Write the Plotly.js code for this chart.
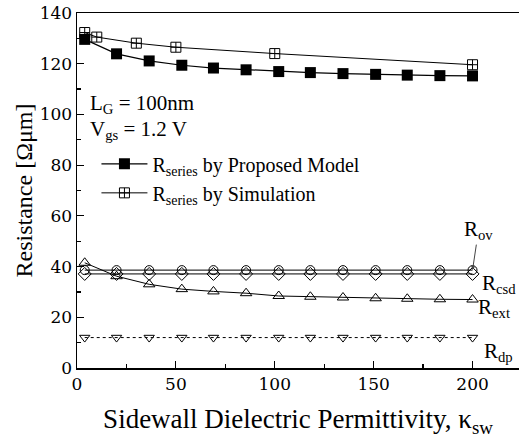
<!DOCTYPE html>
<html><head><meta charset="utf-8">
<script src="https://cdn.plot.ly/plotly-3.0.1.min.js"></script>
<style>html,body{margin:0;padding:0;background:#fff}#c{width:519px;height:438px}</style>
</head><body><div id="c"></div>
<script>
// Data
const kModel = [3.9, 20, 36.5, 53, 69, 85.5, 102, 118, 134.5, 151, 167, 183.5, 200];
const rSeriesModel = [129.6, 123.9, 121.1, 119.4, 118.3, 117.6, 116.9, 116.5, 116.1, 115.8, 115.5, 115.3, 115.2];
const kSim = [3.9, 10, 30, 50, 100, 200];
const rSeriesSim = [132.3, 130.5, 128.1, 126.5, 124.0, 119.6];
const rOv  = [38.6, 38.6, 38.6, 38.6, 38.6, 38.6, 38.6, 38.6, 38.6, 38.6, 38.6, 38.6, 38.6];
const rCsd = [37.1, 37.1, 37.1, 37.1, 37.1, 37.1, 37.1, 37.1, 37.1, 37.1, 37.1, 37.1, 37.1];
const rExt = [41.5, 36.2, 33.0, 31.1, 30.2, 29.5, 28.4, 28.1, 27.8, 27.5, 27.3, 27.1, 27.0];
const rDp  = [12.0, 12.0, 12.0, 12.0, 12.0, 12.0, 12.0, 12.0, 12.0, 12.0, 12.0, 12.0, 12.0];

const F = "DejaVu Serif";
const F2 = "Liberation Serif";
const traces = [
  {x: kModel, y: rSeriesModel, mode: 'lines+markers', name: 'R<sub>series</sub> by Proposed Model',
   line: {color: '#000', width: 1.2}, marker: {symbol: 'square', size: 11, color: '#000'}},
  {x: kSim, y: rSeriesSim, mode: 'lines+markers', name: 'R<sub>series</sub> by Simulation',
   line: {color: '#000', width: 1}, marker: {symbol: 'square-cross-open', size: 10, color: '#000', line: {width: 1}}},
  {x: kModel, y: rOv, mode: 'lines+markers', showlegend: false,
   line: {color: '#000', width: 1}, marker: {symbol: 'circle-open', size: 9, color: '#000', line: {width: 1}}},
  {x: kModel, y: rCsd, mode: 'lines+markers', showlegend: false,
   line: {color: '#000', width: 1}, marker: {symbol: 'diamond-open', size: 10, color: '#000', line: {width: 1}}},
  {x: kModel, y: rExt, mode: 'lines+markers', showlegend: false,
   line: {color: '#000', width: 1}, marker: {symbol: 'triangle-up-open', size: 10, color: '#000', line: {width: 1}}},
  {x: kModel, y: rDp, mode: 'lines+markers', showlegend: false,
   line: {color: '#000', width: 1, dash: 'dot'}, marker: {symbol: 'triangle-down-open', size: 9, color: '#000', line: {width: 1}}}
];

const layout = {
  width: 519, height: 438,
  margin: {l: 77, r: 0, t: 13, b: 70},
  paper_bgcolor: '#fff', plot_bgcolor: '#fff',
  font: {family: F, color: '#000', size: 17},
  showlegend: true,
  legend: {x: 0.044, y: 0.63, xanchor: 'left', yanchor: 'top', bgcolor: 'rgba(0,0,0,0)', itemwidth: 46,
           font: {family: F2, size: 20}, tracegroupgap: 0},
  xaxis: {range: [0, 223.5], showgrid: false, zeroline: false, showline: true, linecolor: '#000', linewidth: 1.5,
          mirror: true, ticks: 'inside', ticklen: 7, tickwidth: 1.2, tickcolor: '#000', dtick: 50,
          minor: {ticks: 'inside', dtick: 25, ticklen: 4, tickcolor: '#000'},
          tickfont: {family: F, size: 17},
          title: {text: 'Sidewall Dielectric Permittivity, κ<sub>sw</sub>', font: {family: F2, size: 27}, standoff: 16}},
  yaxis: {range: [0, 140], showgrid: false, zeroline: false, showline: true, linecolor: '#000', linewidth: 1.5,
          ticks: 'inside', ticklen: 7, tickwidth: 1.2, tickcolor: '#000', dtick: 20,
          minor: {ticks: 'inside', dtick: 10, ticklen: 4, tickcolor: '#000'},
          tickfont: {family: F, size: 17},
          title: {text: 'Resistance [Ωμm]', font: {family: F2, size: 24}, standoff: 0}},
  annotations: [
    {xref: 'paper', yref: 'paper', x: 0.025, y: 0.745, xanchor: 'left', yanchor: 'middle', showarrow: false,
     text: 'L<sub>G</sub> = 100nm', font: {family: F2, size: 21}},
    {xref: 'paper', yref: 'paper', x: 0.025, y: 0.67, xanchor: 'left', yanchor: 'middle', showarrow: false,
     text: 'V<sub>gs</sub> = 1.2 V', font: {family: F2, size: 21}},
    {xref: 'x', yref: 'y', x: 200, y: 38.6, ax: 6, ay: -40, showarrow: true, arrowhead: 2, arrowsize: 0.8, arrowwidth: 1,
     text: 'R<sub>ov</sub>', font: {family: F2, size: 21}},
    {xref: 'x', yref: 'y', x: 204, y: 33.2, xanchor: 'left', yanchor: 'middle', showarrow: false,
     text: 'R<sub>csd</sub>', font: {family: F2, size: 21}},
    {xref: 'x', yref: 'y', x: 202, y: 23.8, xanchor: 'left', yanchor: 'middle', showarrow: false,
     text: 'R<sub>ext</sub>', font: {family: F2, size: 21}},
    {xref: 'x', yref: 'y', x: 205, y: 6.3, xanchor: 'left', yanchor: 'middle', showarrow: false,
     text: 'R<sub>dp</sub>', font: {family: F2, size: 21}}
  ]
};
Plotly.newPlot('c', traces, layout, {displayModeBar: false, staticPlot: true});
</script></body></html>
